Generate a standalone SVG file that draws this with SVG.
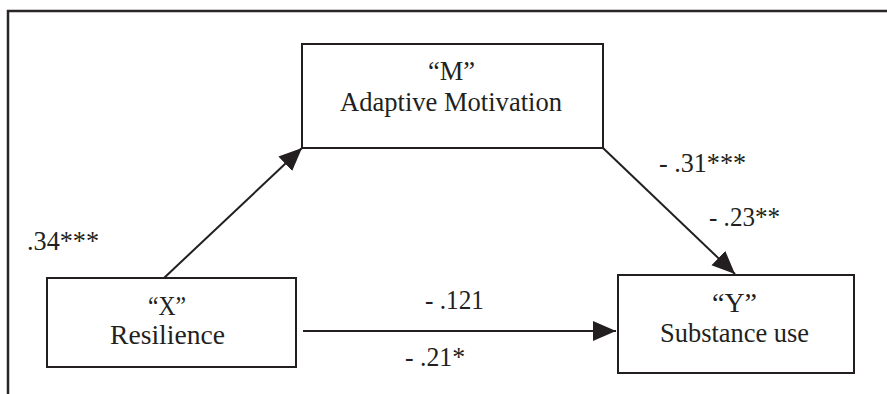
<svg xmlns="http://www.w3.org/2000/svg" width="887" height="394" viewBox="0 0 887 394">
<style>
.box{fill:#fff;stroke:#231f20;stroke-width:2}
.frame{fill:none;stroke:#2b2728;stroke-width:2.5}
.edge{fill:none;stroke:#231f20;stroke-width:2}
text{font-family:"Liberation Serif","Times New Roman",serif;font-size:26.5px;fill:#231f20}
</style>
<defs>
<marker id="ah" markerUnits="userSpaceOnUse" markerWidth="24" markerHeight="22" viewBox="0 0 24 22" refX="23" refY="11" orient="auto">
<path d="M0,1 L23,11 L0,21 Z" fill="#231f20"/>
</marker>
</defs>
<rect width="887" height="394" fill="#fff"/>
<path class="frame" d="M8,394 L8,11 L887,11"/>
<g id="node-m">
<rect class="box" x="302" y="44" width="301" height="104"/>
<text x="428" y="80" textLength="47" lengthAdjust="spacingAndGlyphs">“M”</text>
<text x="340" y="110.5" textLength="222" lengthAdjust="spacingAndGlyphs">Adaptive Motivation</text>
</g>
<g id="node-x">
<rect class="box" x="47" y="278" width="249" height="89"/>
<text x="148" y="315" textLength="38" lengthAdjust="spacingAndGlyphs">“X”</text>
<text x="110" y="344" textLength="115" lengthAdjust="spacingAndGlyphs">Resilience</text>
</g>
<g id="node-y">
<rect class="box" x="618" y="275" width="236" height="98"/>
<text x="712" y="312" textLength="45" lengthAdjust="spacingAndGlyphs">“Y”</text>
<text x="660" y="342" textLength="149" lengthAdjust="spacingAndGlyphs">Substance use</text>
</g>
<g id="connectors">
<line class="edge" x1="164" y1="278" x2="302" y2="148" marker-end="url(#ah)"/>
<line class="edge" x1="603" y1="148" x2="735" y2="274" marker-end="url(#ah)"/>
<line class="edge" x1="303" y1="331" x2="616" y2="331" marker-end="url(#ah)"/>
</g>
<g id="labels">
<text x="27" y="250" textLength="72" lengthAdjust="spacingAndGlyphs">.34***</text>
<text x="659" y="172" textLength="87" lengthAdjust="spacingAndGlyphs">- .31***</text>
<text x="709" y="226" textLength="71" lengthAdjust="spacingAndGlyphs">- .23**</text>
<text x="425" y="309" textLength="59" lengthAdjust="spacingAndGlyphs">- .121</text>
<text x="405" y="366" textLength="60" lengthAdjust="spacingAndGlyphs">- .21*</text>
</g>
</svg>
